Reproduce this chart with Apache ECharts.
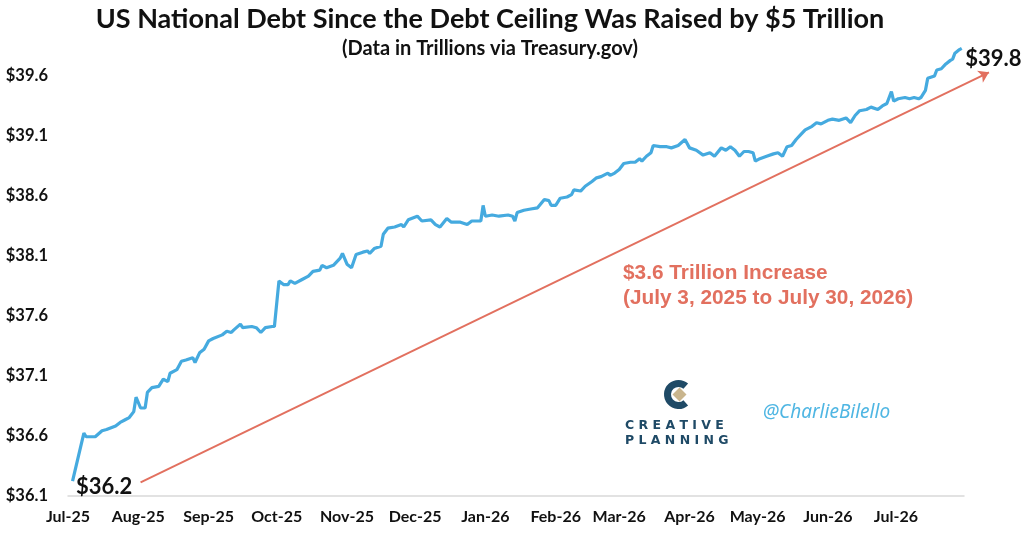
<!DOCTYPE html>
<html>
<head>
<meta charset="utf-8">
<script src="https://cdn.jsdelivr.net/npm/echarts@6/dist/echarts.min.js"></script>
<style>
  html, body { margin: 0; padding: 0; background: #fff; }
  #chart { width: 1024px; height: 535px; }
</style>
</head>
<body>
<div id="chart"></div>
<script>
// daily debt readings (trillions)
var dates = [
  '2025-07-03','2025-07-08','2025-07-09','2025-07-13','2025-07-16','2025-07-18','2025-07-22','2025-07-24',
  '2025-07-26','2025-07-28','2025-07-30','2025-07-31','2025-08-02','2025-08-04','2025-08-05','2025-08-07',
  '2025-08-10','2025-08-12','2025-08-14','2025-08-15','2025-08-18','2025-08-20','2025-08-22','2025-08-25',
  '2025-08-26','2025-08-28','2025-08-30','2025-09-01','2025-09-03','2025-09-07','2025-09-09','2025-09-11',
  '2025-09-12','2025-09-15','2025-09-16','2025-09-20','2025-09-22','2025-09-24','2025-09-26','2025-09-29',
  '2025-09-30','2025-10-02','2025-10-04','2025-10-06','2025-10-07','2025-10-09','2025-10-12','2025-10-15',
  '2025-10-17','2025-10-20','2025-10-21','2025-10-23','2025-10-26','2025-10-29','2025-10-30','2025-11-01',
  '2025-11-03','2025-11-05','2025-11-08','2025-11-10','2025-11-11','2025-11-13','2025-11-16','2025-11-17',
  '2025-11-19','2025-11-22','2025-11-25','2025-11-26','2025-11-28','2025-12-02','2025-12-04','2025-12-08',
  '2025-12-10','2025-12-12','2025-12-15','2025-12-17','2025-12-21','2025-12-24','2025-12-26','2025-12-30',
  '2025-12-31','2026-01-01','2026-01-04','2026-01-07','2026-01-11','2026-01-13','2026-01-14','2026-01-15',
  '2026-01-18','2026-01-21','2026-01-24','2026-01-27','2026-01-29','2026-01-30','2026-02-01','2026-02-03',
  '2026-02-06','2026-02-08','2026-02-09','2026-02-12','2026-02-14','2026-02-17','2026-02-19','2026-02-21',
  '2026-02-24','2026-02-25','2026-02-27','2026-03-01','2026-03-03','2026-03-06','2026-03-08','2026-03-10',
  '2026-03-11','2026-03-13','2026-03-15','2026-03-16','2026-03-19','2026-03-22','2026-03-24','2026-03-27',
  '2026-03-30','2026-04-01','2026-04-04','2026-04-07','2026-04-10','2026-04-12','2026-04-15','2026-04-17',
  '2026-04-19','2026-04-21','2026-04-23','2026-04-25','2026-04-27','2026-04-29','2026-04-30','2026-05-02',
  '2026-05-05','2026-05-08','2026-05-10','2026-05-12','2026-05-14','2026-05-16','2026-05-18','2026-05-20',
  '2026-05-22','2026-05-25','2026-05-27','2026-05-29','2026-06-01','2026-06-03','2026-06-06','2026-06-09',
  '2026-06-11','2026-06-13','2026-06-15','2026-06-18','2026-06-20','2026-06-23','2026-06-25','2026-06-27',
  '2026-06-29','2026-06-30','2026-07-02','2026-07-05','2026-07-07','2026-07-09','2026-07-11','2026-07-12',
  '2026-07-14','2026-07-15','2026-07-18','2026-07-19','2026-07-21','2026-07-23','2026-07-25','2026-07-26',
  '2026-07-27','2026-07-29','2026-07-30'
];
var debt = [
  36.22, 36.62, 36.59, 36.59, 36.64, 36.65, 36.68, 36.71,
  36.73, 36.75, 36.80, 36.92, 36.83, 36.83, 36.96, 37.00,
  37.01, 37.07, 37.05, 37.12, 37.15, 37.22, 37.23, 37.25,
  37.21, 37.29, 37.32, 37.39, 37.41, 37.44, 37.47, 37.46,
  37.48, 37.53, 37.50, 37.51, 37.50, 37.46, 37.50, 37.51,
  37.51, 37.89, 37.86, 37.86, 37.89, 37.87, 37.90, 37.93,
  37.97, 37.98, 38.02, 38.00, 38.02, 38.08, 38.12, 38.03,
  38.00, 38.11, 38.13, 38.14, 38.12, 38.16, 38.18, 38.28,
  38.33, 38.34, 38.36, 38.34, 38.40, 38.43, 38.39, 38.40,
  38.36, 38.34, 38.41, 38.38, 38.38, 38.36, 38.39, 38.39,
  38.52, 38.43, 38.44, 38.43, 38.44, 38.43, 38.39, 38.46,
  38.48, 38.49, 38.50, 38.57, 38.56, 38.52, 38.52, 38.58,
  38.59, 38.61, 38.65, 38.64, 38.68, 38.72, 38.75, 38.76,
  38.79, 38.77, 38.79, 38.82, 38.87, 38.88, 38.88, 38.91,
  38.89, 38.93, 38.96, 39.02, 39.01, 39.01, 39.00, 39.02,
  39.07, 39.00, 38.98, 38.94, 38.96, 38.93, 39.00, 38.98,
  39.01, 38.98, 38.93, 38.97, 38.97, 38.96, 38.89, 38.91,
  38.93, 38.95, 38.96, 38.93, 39.01, 39.02, 39.07, 39.11,
  39.15, 39.18, 39.21, 39.20, 39.23, 39.24, 39.23, 39.25,
  39.21, 39.27, 39.31, 39.32, 39.34, 39.32, 39.35, 39.37,
  39.47, 39.39, 39.41, 39.42, 39.41, 39.42, 39.41, 39.42,
  39.48, 39.58, 39.60, 39.65, 39.66, 39.70, 39.73, 39.74,
  39.79, 39.82, 39.83
];
var yTicks = [36.1, 36.6, 37.1, 37.6, 38.1, 38.6, 39.1, 39.6];
var monthStarts = [
  '2025-07-01','2025-08-01','2025-09-01','2025-10-01','2025-11-01','2025-12-01','2026-01-01',
  '2026-02-01','2026-03-01','2026-04-01','2026-05-01','2026-06-01','2026-07-01'
];
var monthLabels = ['Jul-25','Aug-25','Sep-25','Oct-25','Nov-25','Dec-25','Jan-26',
  'Feb-26','Mar-26','Apr-26','May-26','Jun-26','Jul-26'];
// trend arrow endpoints [date, value]
var arrowFrom = ['2025-08-02', 36.21];
var arrowTo = ['2026-08-11', 39.63];

function ts(s) { return new Date(s + 'T00:00:00').getTime(); }

var monthTs = monthStarts.map(ts);
var seriesData = dates.map(function (d, i) { return [ts(d), debt[i]]; });
var lastIdx = debt.length - 1;

var RED = '#e2705f';
var BLUE = '#45aadf';
var NAVY = '#1f4a66';

var endLabel = {
  show: true,
  position: 'right',
  distance: 3,
  fontFamily: 'Lato',
  fontWeight: 'bold',
  fontSize: 22,
  color: '#111',
  formatter: function (p) { return '$' + p.value.toFixed(1); }
};

var chart = echarts.init(document.getElementById('chart'));
chart.setOption({
  animation: false,
  backgroundColor: '#fff',
  title: {
    text: 'US National Debt Since the Debt Ceiling Was Raised by $5 Trillion',
    subtext: '(Data in Trillions via Treasury.gov)',
    left: 485,
    top: 1,
    textAlign: 'center',
    itemGap: 6,
    textStyle: { fontFamily: 'Lato', fontWeight: 'bold', fontSize: 27, color: '#111' },
    subtextStyle: { fontFamily: 'Lato', fontWeight: 'bold', fontSize: 20, color: '#111' }
  },
  grid: { left: 68, right: 60, top: 40, bottom: 39.5 },
  xAxis: {
    type: 'value',
    min: ts('2025-07-01'),
    max: ts('2026-07-31'),
    axisLine: { show: true, lineStyle: { color: '#d9d9d9', width: 1.5 } },
    axisTick: { show: false },
    splitLine: { show: false },
    axisLabel: {
      customValues: monthTs,
      margin: 13,
      color: '#111',
      fontFamily: 'Lato',
      fontWeight: 'bold',
      fontSize: 16,
      formatter: function (v) {
        var i = monthTs.indexOf(v);
        return i >= 0 ? monthLabels[i] : '';
      }
    }
  },
  yAxis: {
    type: 'value',
    min: 36.1,
    max: 39.9,
    axisLine: { show: false },
    axisTick: { show: false },
    splitLine: { show: false },
    axisLabel: {
      customValues: yTicks,
      margin: 20,
      color: '#111',
      fontFamily: 'Lato',
      fontWeight: 'bold',
      fontSize: 16.5,
      formatter: function (v) { return '$' + v.toFixed(1); }
    }
  },
  series: [
    {
      type: 'line',
      data: seriesData,
      showSymbol: false,
      symbol: 'none',
      clip: false,
      lineStyle: { color: BLUE, width: 3.2 },
      markPoint: {
        silent: true,
        symbol: 'circle',
        symbolSize: 1,
        itemStyle: { color: 'rgba(0,0,0,0)' },
        data: [
          { coord: seriesData[0], value: debt[0], label: Object.assign({}, endLabel, { offset: [0, 6] }) },
          { coord: seriesData[lastIdx], value: debt[lastIdx], label: Object.assign({}, endLabel, { offset: [0, 11] }) }
        ]
      },
      z: 3
    },
    {
      type: 'lines',
      coordinateSystem: 'cartesian2d',
      clip: false,
      silent: true,
      symbol: ['none', 'arrow'],
      symbolSize: 10,
      lineStyle: { color: RED, width: 2, opacity: 1 },
      data: [{ coords: [[ts(arrowFrom[0]), arrowFrom[1]], [ts(arrowTo[0]), arrowTo[1]]] }],
      z: 2
    }
  ],
  graphic: [
    {
      type: 'text', left: 623, top: 261,
      style: {
        text: '$3.6 Trillion Increase\n(July 3, 2025 to July 30, 2026)',
        font: 'bold 20.8px "Liberation Sans", Arial, sans-serif',
        fill: RED,
        lineHeight: 25
      }
    },
    {
      type: 'group', left: 664, top: 380,
      children: [
        { type: 'arc', shape: { cx: 15, cy: 14, r: 11, startAngle: Math.PI * 0.27, endAngle: Math.PI * 1.73 },
          style: { stroke: NAVY, lineWidth: 7, fill: null } },
        { type: 'polygon', shape: { points: [[16, 7], [23, 14], [16, 21], [9, 14]] },
          style: { fill: '#c9b58d' } }
      ]
    },
    {
      type: 'text', left: 625, top: 419,
      style: { text: 'C R E A T I V E', font: 'bold 12.5px "DejaVu Sans", sans-serif', fill: NAVY }
    },
    {
      type: 'text', left: 625, top: 434,
      style: { text: 'P L A N N I N G', font: 'bold 12.5px "DejaVu Sans", sans-serif', fill: NAVY }
    },
    {
      type: 'text', left: 763, top: 403,
      style: { text: '@CharlieBilello', font: 'italic 19px "Noto Sans", sans-serif', fill: '#4fb6e3' }
    }
  ]
});
</script>
</body>
</html>
